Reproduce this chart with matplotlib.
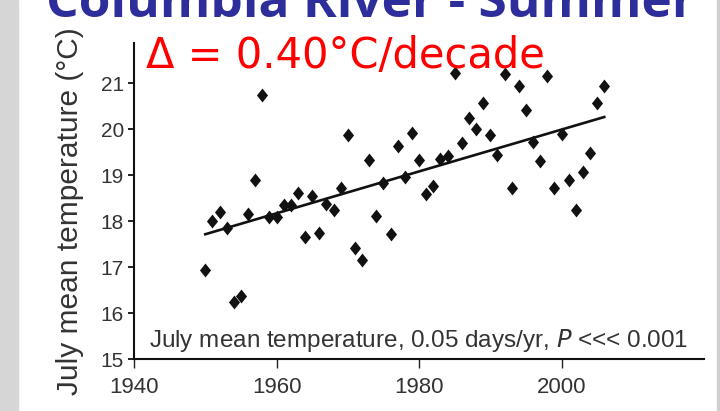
import matplotlib.pyplot as plt
from matplotlib.patches import Rectangle

years = [1950, 1951, 1952, 1953, 1954, 1955, 1956, 1957, 1958, 1959,
         1960, 1961, 1962, 1963, 1964, 1965, 1966, 1967, 1968, 1969,
         1970, 1971, 1972, 1973, 1974, 1975, 1976, 1977, 1978, 1979,
         1980, 1981, 1982, 1983, 1984, 1985, 1986, 1987, 1988, 1989,
         1990, 1991, 1992, 1993, 1994, 1995, 1996, 1997, 1998, 1999,
         2000, 2001, 2002, 2003, 2004, 2005, 2006]
july_temp = [16.95, 18.0, 18.2, 17.85, 16.25, 16.38, 18.15, 18.9, 20.75, 18.1,
             18.1, 18.35, 18.35, 18.62, 17.67, 18.55, 17.75, 18.38, 18.25, 18.72,
             19.88, 17.43, 17.16, 19.33, 18.12, 18.84, 17.72, 19.64, 18.96, 19.93,
             19.33, 18.6, 18.77, 19.35, 19.42, 21.23, 19.7, 20.24, 20.0, 20.58,
             19.88, 19.44, 21.2, 18.72, 20.94, 20.42, 19.73, 19.32, 21.16, 18.72,
             19.91, 18.9, 18.25, 19.08, 19.49, 20.57, 20.94]

trend_years = [1950, 2006]
trend_temp = [17.72, 20.27]

xticks = [1940, 1960, 1980, 2000]
yticks = [15, 16, 17, 18, 19, 20, 21]

fig = plt.figure(figsize=(7.2, 4.11), dpi=100)
fig.patch.set_facecolor("white")

# grey slide edges
fig.add_artist(Rectangle((0, 0), 18 / 720, 1, transform=fig.transFigure,
                         color="#d6d6d6", zorder=0))
fig.add_artist(Rectangle((717 / 720, 0), 3 / 720, 1, transform=fig.transFigure,
                         color="#cfcfcf", zorder=0))

ax = fig.add_axes([134 / 720, 1 - 359.3 / 411, 570 / 720, 316.3 / 411])
ax.set_facecolor("none")

diamond = [(0, 1), (0.8, 0), (0, -1), (-0.8, 0), (0, 1)]
ax.plot(years, july_temp, linestyle="none", marker=diamond, markersize=10,
        color="#111111", markeredgewidth=0)
ax.plot(trend_years, trend_temp, color="#111111", linewidth=1.9)

ax.set_xlim(1940, 2020)
ax.set_ylim(15, 21.88)
ax.set_xticks(xticks)
ax.set_yticks(yticks)

for side in ["top", "right"]:
    ax.spines[side].set_visible(False)
for side in ["left", "bottom"]:
    ax.spines[side].set_linewidth(1.5)
    ax.spines[side].set_color("#111111")

ax.tick_params(axis="x", length=6.5, width=1, pad=6, labelsize=16,
               labelcolor="#333333", colors="#222222")
ax.tick_params(axis="y", length=4.3, width=1.4, pad=3, labelsize=15,
               labelcolor="#333333", colors="#222222")
for lab in ax.get_xticklabels() + ax.get_yticklabels():
    lab.set_family("Liberation Sans")

fig.text(70 / 720, 1 - 211 / 411, "July mean temperature (°C)", rotation=90,
         ha="center", va="center", fontsize=21.5, color="#333333",
         family="Liberation Sans")

fig.text(149 / 720, 1 - 347 / 411,
         "July mean temperature, 0.05 days/yr, $\\it{P}$ <<< 0.001",
         ha="left", va="baseline", fontsize=17.5, color="#333333",
         family="Liberation Sans")

fig.text(146 / 720, 1 - 68 / 411, "Δ = 0.40°C/decade", ha="left",
         va="baseline", fontsize=30, color="#ff0000", family="DejaVu Sans")

fig.text(46 / 720, 1 - 17 / 411, "Columbia River - Summer", ha="left",
         va="baseline", fontsize=37, color="#2d2d9b", family="Open Sans",
         fontweight="bold")

fig.savefig("out.png", dpi=100, facecolor=fig.get_facecolor())
